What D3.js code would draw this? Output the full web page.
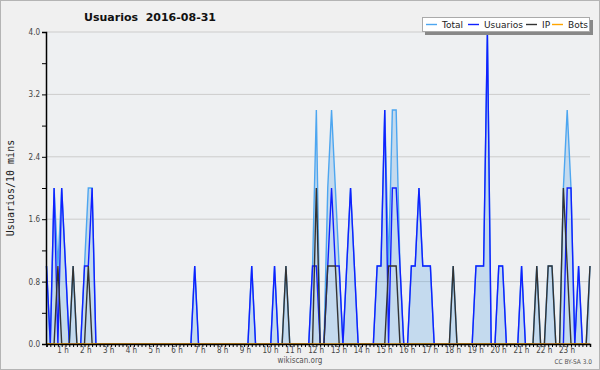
<!DOCTYPE html>
<html lang="es">
<head>
<meta charset="UTF-8">
<script src="https://d3js.org/d3.v7.min.js"></script>
<title>Usuarios 2016-08-31</title>
<style>
  body { margin: 0; background: #f0f0f0; }
  text { white-space: pre; }
</style>
</head>
<body>
<svg id="vis" width="600" height="370"></svg>
<script>
// one value per 10 minutes, one row per hour
var usuarios = [
  1,0,2,0,2,1,  0,0,0,0,1,1,  2,0,0,0,0,0,  0,0,0,0,0,0,
  0,0,0,0,0,0,  0,0,0,0,0,0,  0,0,0,1,0,0,  0,0,0,0,0,0,
  0,0,0,0,0,0,  1,0,0,0,0,0,  1,0,0,0,0,0,  0,0,0,0,1,1,
  0,0,1,2,1,1,  0,1,2,1,0,0,  0,0,0,1,1,3,  0,2,2,1,0,0,
  1,1,2,1,1,1,  0,0,0,0,0,0,  0,0,0,0,0,1,  1,1,4,0,0,1,
  1,0,0,0,0,1,  0,0,0,0,0,0,  0,0,0,0,0,2,  2,0,1,0,0,0
];
var ip = [
  0,0,0,1,0,0,  0,1,0,0,0,1,  0,0,0,0,0,0,  0,0,0,0,0,0,
  0,0,0,0,0,0,  0,0,0,0,0,0,  0,0,0,0,0,0,  0,0,0,0,0,0,
  0,0,0,0,0,0,  0,0,0,0,0,0,  0,0,0,1,0,0,  0,0,0,0,0,2,
  0,0,1,1,1,0,  0,0,0,0,0,0,  0,0,0,0,0,0,  1,1,1,0,0,0,
  0,0,0,0,0,0,  0,0,0,0,0,1,  0,0,0,0,0,0,  0,0,0,0,0,0,
  0,0,0,0,0,0,  0,0,0,1,0,0,  1,1,0,0,2,1,  0,0,0,0,0,1
];
var total = [
  1,0,2,1,2,1,  0,1,0,0,1,2,  2,0,0,0,0,0,  0,0,0,0,0,0,
  0,0,0,0,0,0,  0,0,0,0,0,0,  0,0,0,1,0,0,  0,0,0,0,0,0,
  0,0,0,0,0,0,  1,0,0,0,0,0,  1,0,0,1,0,0,  0,0,0,0,1,3,
  0,0,2,3,2,1,  0,1,2,1,0,0,  0,0,0,1,1,3,  1,3,3,1,0,0,
  1,1,2,1,1,1,  0,0,0,0,0,1,  0,0,0,0,0,1,  1,1,4,0,0,1,
  1,0,0,0,0,1,  0,0,0,1,0,0,  1,1,0,0,2,3,  2,0,1,0,0,1
];
var bots = [
  0,0,0,0,0,0,  0,0,0,0,0,0,  0,0,0,0,0,0,  0,0,0,0,0,0,
  0,0,0,0,0,0,  0,0,0,0,0,0,  0,0,0,0,0,0,  0,0,0,0,0,0,
  0,0,0,0,0,0,  0,0,0,0,0,0,  0,0,0,0,0,0,  0,0,0,0,0,0,
  0,0,0,0,0,0,  0,0,0,0,0,0,  0,0,0,0,0,0,  0,0,0,0,0,0,
  0,0,0,0,0,0,  0,0,0,0,0,0,  0,0,0,0,0,0,  0,0,0,0,0,0,
  0,0,0,0,0,0,  0,0,0,0,0,0,  0,0,0,0,0,0,  0,0,0,0,0,0
];
var hourLabels = ["1 h","2 h","3 h","4 h","5 h","6 h","7 h","8 h","9 h","10 h","11 h","12 h",
  "13 h","14 h","15 h","16 h","17 h","18 h","19 h","20 h","21 h","22 h","23 h"];
var yTicks = [0, 0.8, 1.6, 2.4, 3.2, 4.0];
var seriesNames = ["Total", "Usuarios", "IP", "Bots"];
var seriesColors = ["#4da6f0", "#1020ff", "#333333", "#ffa500"];

var font = "'DejaVu Sans Condensed', 'DejaVu Sans', sans-serif";
var svg = d3.select("#vis");

// fond et cadre
svg.append("rect").attr("x", 0.5).attr("y", 0.5).attr("width", 599).attr("height", 369)
  .attr("fill", "#f0f0f0").attr("stroke", "#b4b4b4");

var scaleX = d3.scaleLinear().domain([0, 143]).range([46.5, 590]);
var scaleY = d3.scaleLinear().domain([0, 4]).range([344, 32]);

svg.append("rect").attr("x", 46).attr("y", 32).attr("width", 544).attr("height", 312)
  .attr("fill", "#eef0f2");

// grille
var grid = svg.append("g");
yTicks.forEach(function (v) {
  if (v == 0) return;
  grid.append("line").attr("x1", 46).attr("x2", 590)
    .attr("y1", scaleY(v)).attr("y2", scaleY(v))
    .attr("stroke", "#cccccc").attr("stroke-width", 1);
});

// séries
var area = d3.area().x(function (d, i) { return scaleX(i); })
  .y0(scaleY(0)).y1(function (d) { return scaleY(d); });
var line = d3.line().x(function (d, i) { return scaleX(i); })
  .y(function (d) { return scaleY(d); });

svg.append("path").datum(total).attr("d", area)
  .attr("fill", "rgb(100,170,230)").attr("fill-opacity", 0.3);
var allSeries = [total, usuarios, ip, bots];
allSeries.forEach(function (s, k) {
  svg.append("path").datum(s).attr("d", line)
    .attr("fill", "none").attr("stroke", seriesColors[k]).attr("stroke-width", 1.4);
});

// axe Y
var yAxis = d3.axisLeft(scaleY).tickValues(d3.range(0, 4.01, 0.4))
  .tickSize(4).tickFormat(function (d) {
    return Math.round(d * 10) % 8 == 0 ? d.toFixed(1) : "";
  });
var gy = svg.append("g").attr("transform", "translate(46,0)").call(yAxis);
gy.select(".domain").attr("stroke", "#000").attr("stroke-width", 1.5);
gy.selectAll(".tick line").attr("stroke", "#000");
gy.selectAll(".tick text").attr("font-family", font).attr("font-size", 8)
  .attr("fill", "#444").attr("x", -6);

// axe X
var xAxis = d3.axisBottom(scaleX).tickValues(d3.range(0, 144, 1))
  .tickSize(3).tickFormat("");
var gx = svg.append("g").attr("transform", "translate(0,344)").call(xAxis);
gx.select(".domain").attr("stroke", "#000").attr("stroke-width", 1.5);
gx.selectAll(".tick line").attr("stroke", "#000");
hourLabels.forEach(function (lab, h) {
  svg.append("text").attr("x", scaleX((h + 1) * 6) - 12).attr("y", 353)
    .attr("font-family", font).attr("font-size", 8).attr("fill", "#444").text(lab);
});

// titres
svg.append("text").attr("x", 150).attr("y", 21).attr("text-anchor", "middle")
  .attr("font-family", "'DejaVu Sans', sans-serif").attr("font-weight", "bold")
  .attr("font-size", 11).attr("fill", "#111").text("Usuarios  2016-08-31");
svg.append("text").attr("transform", "translate(14,188) rotate(-90)")
  .attr("text-anchor", "middle").attr("font-family", "'DejaVu Sans Mono', monospace")
  .attr("font-size", 10).attr("fill", "#222").text("Usuarios/10 mins");
svg.append("text").attr("x", 300).attr("y", 363).attr("text-anchor", "middle")
  .attr("font-family", font).attr("font-size", 8).attr("fill", "#555").text("wikiscan.org");
svg.append("text").attr("x", 592).attr("y", 364).attr("text-anchor", "end")
  .attr("font-family", font).attr("font-size", 6.5).attr("fill", "#555").text("CC BY-SA 3.0");

// légende
var leg = svg.append("g");
leg.append("rect").attr("x", 425).attr("y", 20).attr("width", 168).attr("height", 15)
  .attr("fill", "#888");
leg.append("rect").attr("x", 422.5).attr("y", 17.5).attr("width", 167).attr("height", 14)
  .attr("fill", "#fff").attr("stroke", "#aaa");
var legX = [426, 468, 526, 552];
seriesNames.forEach(function (name, k) {
  leg.append("line").attr("x1", legX[k]).attr("x2", legX[k] + 11)
    .attr("y1", 24.5).attr("y2", 24.5).attr("stroke", seriesColors[k]).attr("stroke-width", 1.4);
  leg.append("text").attr("x", legX[k] + 16).attr("y", 28)
    .attr("font-family", "'DejaVu Sans', sans-serif").attr("font-size", 9)
    .attr("fill", "#222").text(name);
});
</script>
</body>
</html>
